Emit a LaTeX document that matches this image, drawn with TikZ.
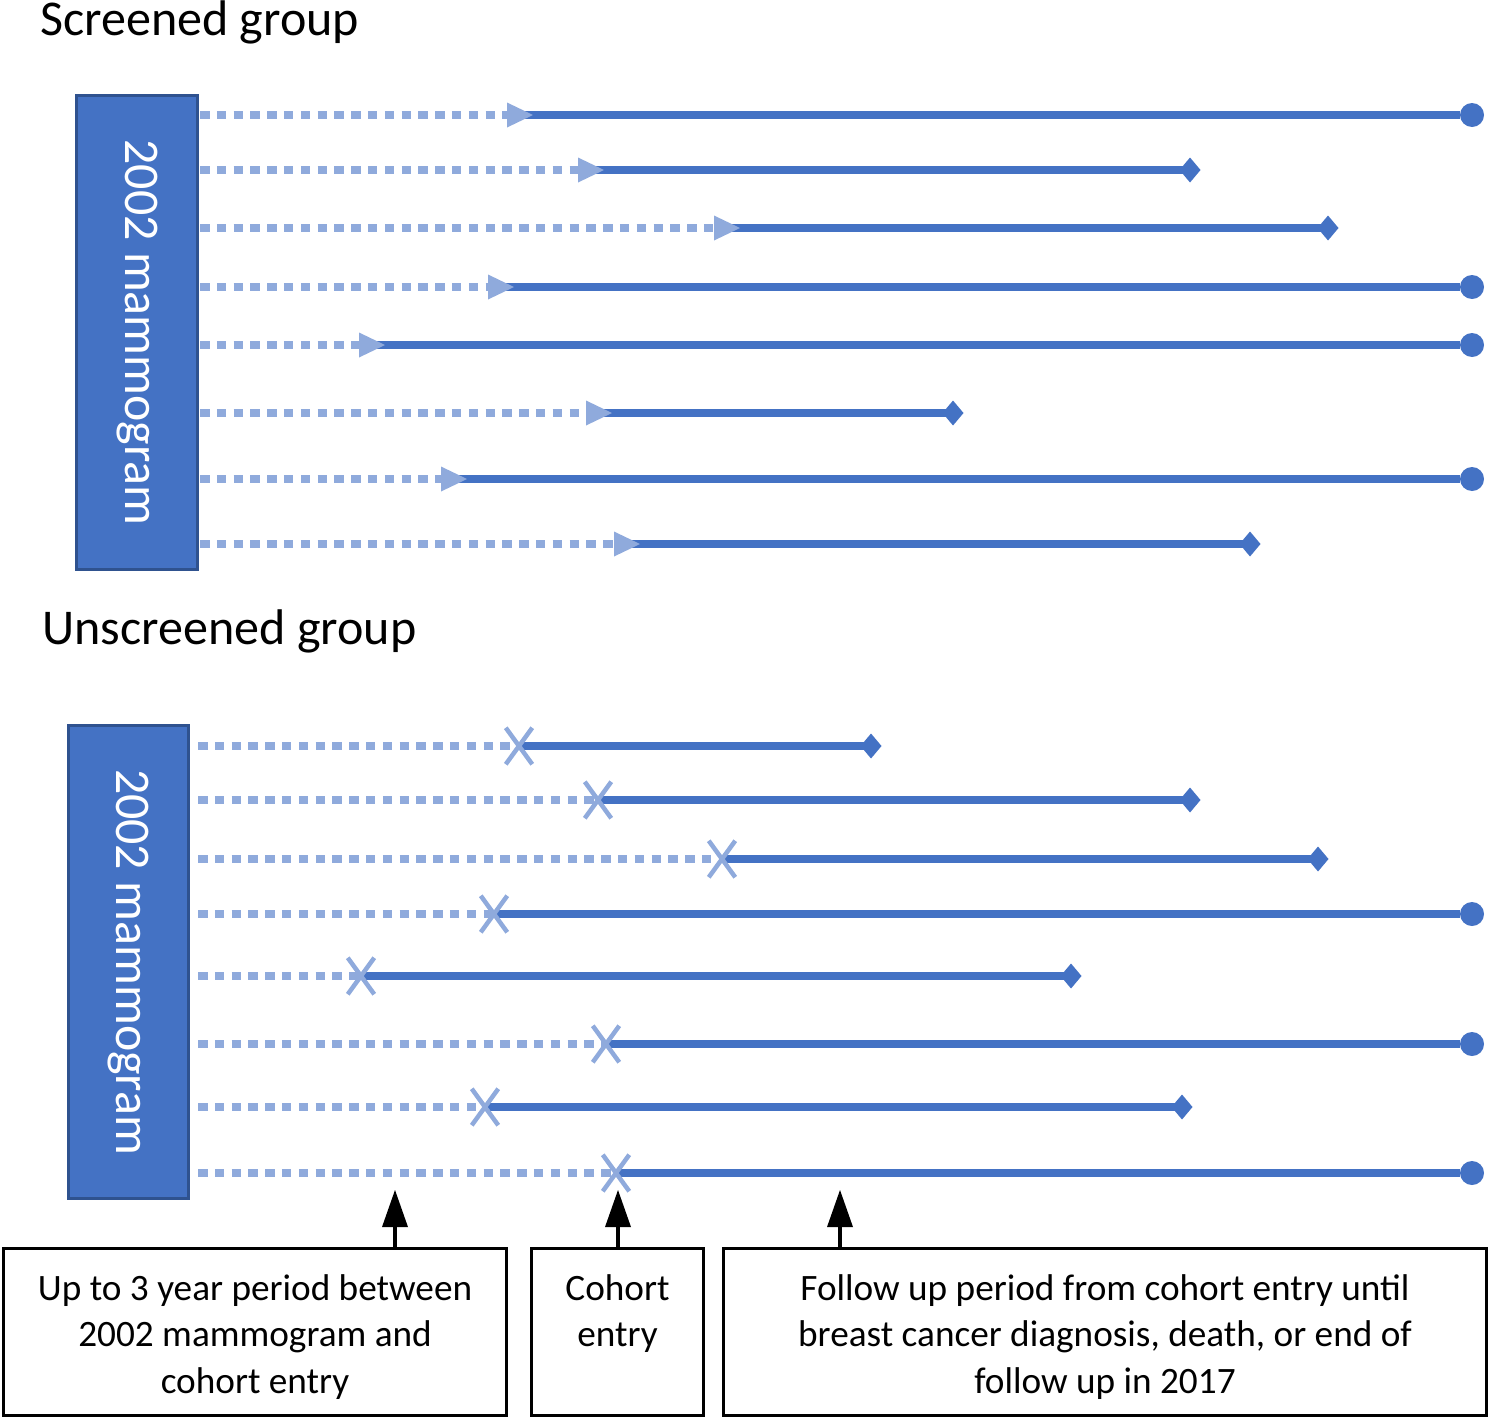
\documentclass[tikz,border=0pt]{standalone}
\usepackage{fontspec}
\setmainfont{Carlito}
\usetikzlibrary{arrows.meta, shapes.misc, positioning}
\definecolor{fublue}{RGB}{68,114,196}
\definecolor{fulight}{RGB}{143,170,220}
\definecolor{fuedge}{RGB}{47,82,143}

\begin{document}
\begin{tikzpicture}[x=0.02cm, y=-0.02cm,
  title/.style={anchor=base west, inner sep=0pt, font=\fontsize{28.5}{34}\selectfont},
  mambox/.style={draw=fuedge, fill=fublue, line width=0.06cm, rotate=-90,
               minimum width=9.48cm, minimum height=2.42cm,
               text=white, font=\fontsize{28.4}{34}\selectfont},
  gap/.style={fulight, line width=0.17cm, dash pattern=on 0.19cm off 0.146cm},
  follow/.style={fublue, line width=0.17cm},
  entrytip/.style={-{Triangle[length=0.52cm, width=0.5cm, line width=0pt]}},
  enddot/.style={-{Circle[length=0.48cm, line width=0pt]}},
  enddia/.style={-{Turned Square[length=0.42cm, width=0.5cm, line width=0pt]}},
  entryx/.style={cross out, draw=fulight, line width=0.09cm, inner sep=0pt,
                 minimum width=0.44cm, minimum height=0.64cm},
  notebox/.style={draw, line width=0.06cm, minimum height=3.34cm, align=center,
                  inner ysep=0pt, text depth=0.2cm, text height=2.64cm,
                  font=\fontsize{21.2}{26.2}\selectfont},
  pointer/.style={-{Triangle[length=0.74cm, width=0.52cm, line width=0pt]}, line width=0.09cm}
]
  \useasboundingbox (0,0) rectangle (1490,1420);

  %% Group titles and mammogram bars
  \node[title] (scrtitle) at (40,35)  {Screened group};
  \node[title] (unstitle) at (42,644) {Unscreened group};
  \node[mambox] (scrbox) at (137,332.5) {2002 mammogram};
  \node[mambox] (unsbox) at (128.5,962) {2002 mammogram};

  %% Screened rows: y / entry / end / end marker
  \foreach \y/\e/\f/\m [count=\i] in {115/533/1484/enddot, 170/604/1200.5/enddia,
      228/740/1338.5/enddia, 287/514/1484/enddot, 345/385/1484/enddot,
      413/612/963.5/enddia, 479/467/1484/enddot, 544/640/1260.5/enddia} {
    \coordinate (s\i-start) at (200,\y);
    \coordinate (s\i-entry) at (\e,\y);
    \coordinate (s\i-stop)  at (\f,\y);
    \draw[follow, \m] ([xshift=-0.26cm]s\i-entry) -- (s\i-stop);
    \draw[gap, entrytip] (s\i-start) -- (s\i-entry);
  }

  %% Unscreened rows: y / entry / end / end marker
  \foreach \y/\e/\f/\m [count=\i] in {746/519/881.5/enddia, 800/598/1200.5/enddia,
      859/722/1328.5/enddia, 914/494/1484/enddot, 976/361/1081.5/enddia,
      1044/606/1484/enddot, 1107/485/1192.5/enddia, 1173/616/1484/enddot} {
    \coordinate (u\i-start) at (198,\y);
    \coordinate (u\i-x)     at (\e,\y);
    \coordinate (u\i-stop)  at (\f,\y);
    \draw[gap] (u\i-start) -- (u\i-x);
    \draw[follow, \m] (u\i-x) -- (u\i-stop);
    \node[entryx] (u\i-entry) at (u\i-x) {};
  }

  %% Legend boxes
  \node[notebox, minimum width=10.06cm] (gapnote)    at (255,1332)
    {Up to 3 year period between\\2002 mammogram and\\cohort entry};
  \node[notebox, minimum width=3.44cm, text height=0.79cm] (entrynote) at (617.5,1332)
    {Cohort\\entry};
  \node[notebox, minimum width=15.26cm] (follownote) at (1105,1332)
    {Follow up period from cohort entry until\\breast cancer diagnosis, death, or end of\\follow up in 2017};

  %% Pointers
  \coordinate (gapmark)    at (395,1190);
  \coordinate (entrymark)  at (618,1190);
  \coordinate (followmark) at (840,1190);
  \draw[pointer] (gapnote.north -| gapmark)       -- (gapmark);
  \draw[pointer] (entrynote.north -| entrymark)   -- (entrymark);
  \draw[pointer] (follownote.north -| followmark) -- (followmark);
\end{tikzpicture}
\end{document}
